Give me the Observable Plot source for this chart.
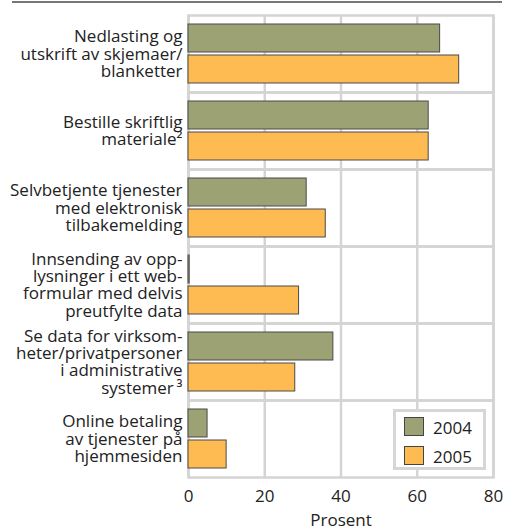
<!DOCTYPE html>
<html><head><meta charset="utf-8">
<script src="https://cdn.jsdelivr.net/npm/d3@7"></script>
<script src="https://cdn.jsdelivr.net/npm/@observablehq/plot@0.6"></script>
<style>
body{margin:0;background:#fff;font-family:"Open Sans",sans-serif}
#wrap{position:relative;width:513px;height:529px}
#rule{position:absolute;left:12px;top:1px;width:490px;height:2px;background:#777}
#legend{position:absolute;left:393px;top:409px;width:93px;height:61px;box-sizing:border-box;border:3px solid #d6d6d6;background:#fff}
.sw{position:absolute;left:8px;width:20px;height:19px;box-sizing:border-box;border:1px solid #444}
.lt{position:absolute;left:37px;font-size:17px;line-height:19px;color:#222}
</style>
</head><body>
<div id="wrap"><div id="chart"></div><div id="rule"></div>
<div id="legend"></div></div>
<script>
const categories = ["c1","c2","c3","c4","c5","c6"];
const labels = [
  "Nedlasting og\nutskrift av skjemaer/\nblanketter",
  "Bestille skriftlig\nmateriale²",
  "Selvbetjente tjenester\nmed elektronisk\ntilbakemelding",
  "Innsending av opp-\nlysninger i ett web-\nformular med delvis\npreutfylte data",
  "Se data for virksom-\nheter/privatpersoner\ni administrative\nsystemer\u2009³",
  "Online betaling\nav tjenester på\nhjemmesiden"
];
const years = ["2004","2005"];
const values2004 = [66, 63, 31, 0.3, 38, 5];
const values2005 = [71, 63, 36, 29, 28, 10];
const xTicks = [0, 20, 40, 60, 80];
const colors = ["#9da274", "#fdbb52"];
const axisLabel = "Prosent";

const data = categories.flatMap((c, i) => [
  {cat: c, year: years[0], value: values2004[i]},
  {cat: c, year: years[1], value: values2005[i]}
]);
const labelRows = categories.map((c, i) => ({cat: c, text: labels[i]}));

const chart = Plot.plot({
  width: 513, height: 529,
  marginLeft: 188, marginRight: 20, marginTop: 14, marginBottom: 52,
  style: {fontFamily: "Open Sans", fontSize: "17px", color: "#222", background: "transparent"},
  x: {domain: [0, 80]},
  fy: {domain: categories, padding: 0, axis: null},
  y: {domain: years, paddingInner: 0.1, paddingOuter: 0.29, axis: null},
  color: {domain: years, range: colors},
  marks: [
    Plot.gridX(xTicks, {stroke: "#d4d4d4", strokeOpacity: 1, strokeWidth: 2.5}),
    Plot.frame({stroke: "#d4d4d4", strokeWidth: 2.5}),
    Plot.barX(data, {fy: "cat", y: "year", x: "value", fill: "year", stroke: "#4a4a4a", strokeWidth: 1}),
    Plot.text(labelRows, {fy: "cat", text: "text", frameAnchor: "left", dx: -6, textAnchor: "end", lineHeight: 1.02, fontSize: 17, fill: "#222"}),
    Plot.axisX({ticks: xTicks, tickSize: 0, tickPadding: 12, fontSize: 17, facetAnchor: "bottom",
      label: axisLabel, labelAnchor: "center", labelArrow: "none", labelOffset: 48})
  ]
});
document.getElementById("chart").appendChild(chart);

const legend = document.getElementById("legend");
years.forEach((y, i) => {
  const sw = document.createElement("div");
  sw.className = "sw"; sw.style.top = (5 + i * 29) + "px"; sw.style.background = colors[i];
  const t = document.createElement("div");
  t.className = "lt"; t.style.top = (6 + i * 29) + "px"; t.textContent = y;
  legend.appendChild(sw); legend.appendChild(t);
});
</script>
</body></html>
